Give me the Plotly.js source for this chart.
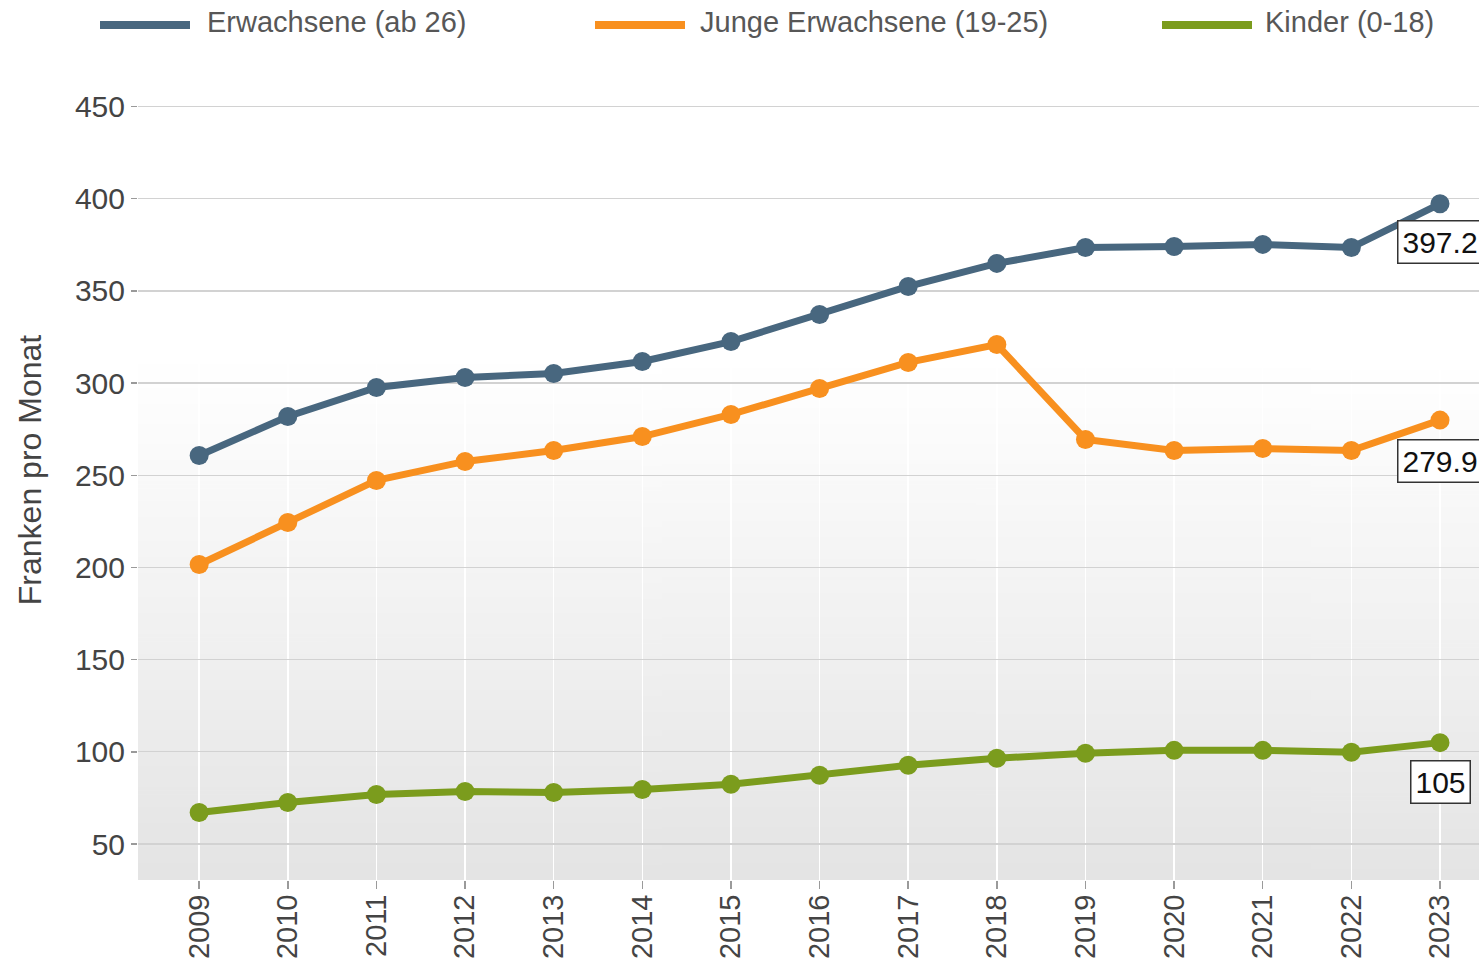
<!DOCTYPE html>
<html>
<head>
<meta charset="utf-8">
<script src="https://cdn.plot.ly/plotly-3.0.1.min.js"></script>
<style>html,body{margin:0;padding:0;background:#fff;}#chart{width:1479px;height:962px;}</style>
</head>
<body>
<div id="chart"></div>
<script>
const years = [2009,2010,2011,2012,2013,2014,2015,2016,2017,2018,2019,2020,2021,2022,2023];
const seriesNames = ["Erwachsene (ab 26)", "Junge Erwachsene (19-25)", "Kinder (0-18)"];
const erwachsene = [260.7,281.9,297.6,303.0,305.2,311.7,322.5,337.2,352.4,364.9,373.5,374.1,375.2,373.5,397.2];
const jungeErwachsene = [201.6,224.4,247.2,257.5,263.4,271.0,283.0,297.1,311.2,320.9,269.4,263.4,264.5,263.4,279.9];
const kinder = [67.1,72.5,76.9,78.5,78.0,79.6,82.4,87.3,92.7,96.5,99.2,100.8,100.8,99.8,105];
const yTicks = [50,100,150,200,250,300,350,400,450];

const colors = ["#48677f", "#f8901f", "#7b9c1d"];
const allSeries = [erwachsene, jungeErwachsene, kinder];

const L = 138, R = 1479, T = 60, B = 880;
const W = R - L, H = B - T;
const px2paperX = p => (p - L) / W;
const px2paperY = p => (B - p) / H;
const FONT = 'Liberation Sans, Arial, sans-serif';

const traces = allSeries.map((vals, i) => ({
  x: years, y: vals, name: seriesNames[i], type: 'scatter', mode: 'lines+markers',
  line: {color: colors[i], width: 7}, marker: {color: colors[i], size: 19},
  showlegend: false, cliponaxis: false, hoverinfo: 'x+y'
}));

// gradient background image
const cv = document.createElement('canvas');
cv.width = 4; cv.height = 256;
const ctx = cv.getContext('2d');
const g = ctx.createLinearGradient(0, 0, 0, 256);
g.addColorStop(0, '#ffffff');
g.addColorStop(1, '#e4e4e4');
ctx.fillStyle = g; ctx.fillRect(0, 0, 4, 256);
const gradURL = cv.toDataURL('image/png');

const shapes = [];
const annotations = [];
const legendLayout = [{x0: 100, x1: 190, tx: 205}, {x0: 595, x1: 685, tx: 698}, {x0: 1162, x1: 1252, tx: 1263}];
legendLayout.forEach((p, i) => {
  shapes.push({type: 'line', xref: 'paper', yref: 'paper', x0: px2paperX(p.x0), x1: px2paperX(p.x1),
    y0: px2paperY(25), y1: px2paperY(25), line: {color: colors[i], width: 8}});
  annotations.push({xref: 'paper', yref: 'paper', x: px2paperX(p.tx), y: px2paperY(22), xanchor: 'left', yanchor: 'middle',
    text: seriesNames[i], showarrow: false, font: {family: FONT, size: 29, color: '#575757'}});
});
const shifts = [-38, -41, -39];
allSeries.forEach((vals, i) => {
  const last = vals.length - 1;
  annotations.push({x: years[last], y: vals[last], xref: 'x', yref: 'y', text: String(vals[last]), showarrow: false,
    yshift: shifts[i], xshift: 0, xanchor: 'center', yanchor: 'middle',
    bgcolor: '#ffffff', bordercolor: '#333333', borderwidth: 1.5, borderpad: 4,
    font: {family: FONT, size: 30, color: '#111111'}});
});

const layout = {
  width: 1479, height: 962,
  margin: {l: L, r: 1479 - R, t: T, b: 962 - B, pad: 0},
  paper_bgcolor: '#ffffff', plot_bgcolor: '#ffffff',
  font: {family: FONT, size: 30, color: '#444444'},
  xaxis: {
    range: [2008.31, 2023.44], tickvals: years, ticktext: years.map(String), tickangle: -90,
    showgrid: true, gridcolor: '#ffffff', gridwidth: 1.5, zeroline: false, showline: false,
    ticks: 'outside', ticklen: 8, tickwidth: 1.5, tickcolor: '#9a9a9a', ticklabelstandoff: -6,
    tickfont: {size: 29, color: '#444444'}, fixedrange: true, automargin: false
  },
  yaxis: {
    range: [30.5, 475.2], tickvals: yTicks, ticktext: yTicks.map(String),
    showgrid: true, gridcolor: '#d2d2d2', gridwidth: 1.3, zeroline: false, showline: false,
    ticks: 'outside', ticklen: 6, tickwidth: 1.5, tickcolor: '#9a9a9a',
    tickfont: {size: 30, color: '#444444'},
    title: {text: 'Franken pro Monat', font: {size: 32, color: '#444444'}, standoff: 23},
    fixedrange: true
  },
  images: [{source: gradURL, xref: 'paper', yref: 'y', x: 0, y: 310, sizex: 1, sizey: 310 - 30.5,
    sizing: 'stretch', layer: 'below', xanchor: 'left', yanchor: 'top'}],
  shapes: shapes, annotations: annotations, showlegend: false
};

Plotly.newPlot('chart', traces, layout, {displayModeBar: false, staticPlot: true});
</script>
</body>
</html>
